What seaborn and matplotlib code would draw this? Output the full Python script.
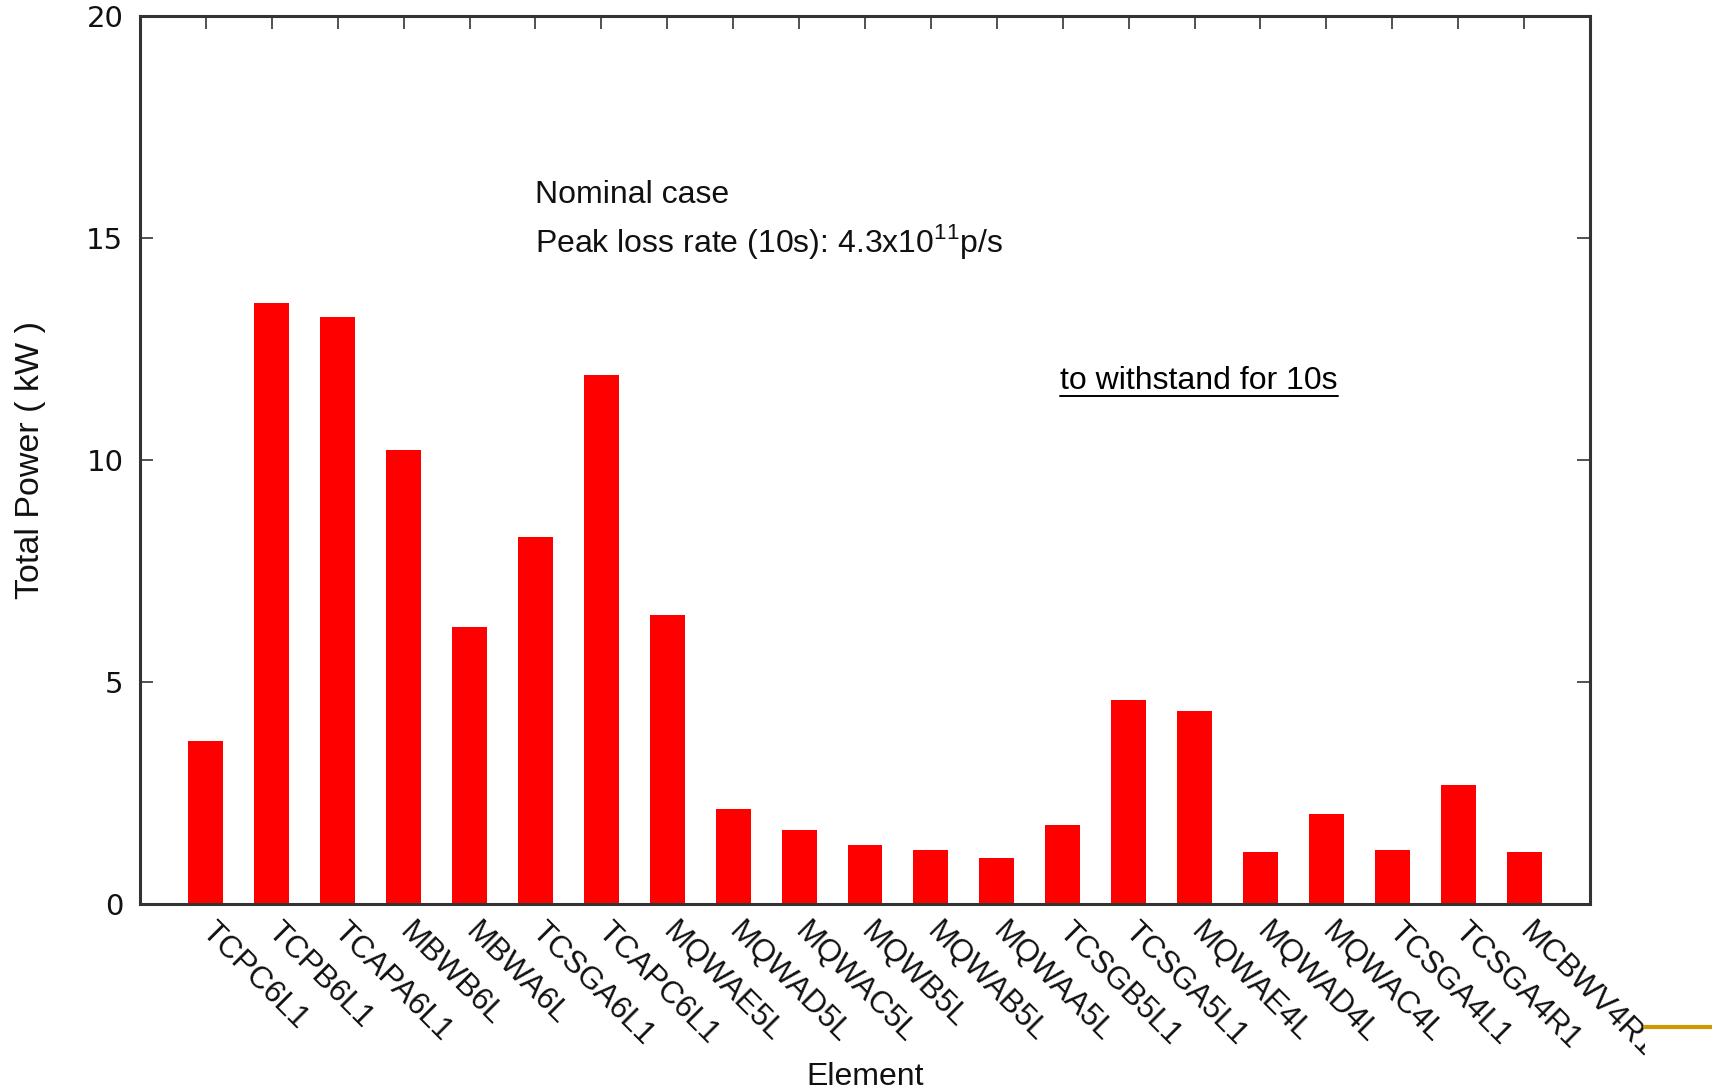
import matplotlib
matplotlib.use("Agg")
import matplotlib.pyplot as plt
from matplotlib.lines import Line2D
from matplotlib.transforms import ScaledTranslation, Bbox
import seaborn as sns
import pandas as pd

elements = ["TCPC6L1", "TCPB6L1", "TCAPA6L1", "MBWB6L", "MBWA6L", "TCSGA6L1",
            "TCAPC6L1", "MQWAE5L", "MQWAD5L", "MQWAC5L", "MQWB5L", "MQWAB5L",
            "MQWAA5L", "TCSGB5L1", "TCSGA5L1", "MQWAE4L", "MQWAD4L", "MQWAC4L",
            "TCSGA4L1", "TCSGA4R1", "MCBWV4R1"]
power_kw = [3.67, 13.53, 13.21, 10.23, 6.25, 8.27, 11.91, 6.52, 2.14, 1.67, 1.33,
            1.21, 1.03, 1.77, 4.60, 4.35, 1.16, 2.02, 1.21, 2.68, 1.16]
y_ticks = [0, 5, 10, 15, 20]

sns.set_theme(style="white")
plt.rcParams["font.family"] = ["Liberation Sans", "DejaVu Sans"]
plt.rcParams["mathtext.fontset"] = "custom"
plt.rcParams["mathtext.rm"] = "Liberation Sans"

df = pd.DataFrame({"Element": elements, "Power": power_kw})

W, H = 1712, 1089
fig = plt.figure(figsize=(W / 100, H / 100), dpi=100)
ax = fig.add_axes([140 / W, 1 - 904 / H, 1450 / W, 888 / H])

sns.barplot(data=df, x="Element", y="Power", color="#ff0000", saturation=1,
            width=0.53, ax=ax, linewidth=0)

ax.set_xlim(-1, 21)
ax.set_ylim(0, 20)
ax.set_yticks(y_ticks)
ax.set_yticklabels([str(v) for v in y_ticks], fontfamily="DejaVu Sans", fontsize=21)

ax.set_xticks(range(len(elements)))
ax.set_xticklabels(elements, rotation=-45, ha="left", va="top",
                   rotation_mode="anchor", fontsize=22.5, color="#111111")

ax.tick_params(axis="both", direction="in", length=9.5, width=1.2, color="#333333",
               top=True, right=True, bottom=True, left=True)
ax.tick_params(axis="x", pad=9)
ax.tick_params(axis="y", pad=12, labelcolor="#111111")

shift = ScaledTranslation(0.11, 0, fig.dpi_scale_trans)
for lbl in ax.get_xticklabels():
    lbl.set_transform(lbl.get_transform() + shift)

for side in ax.spines.values():
    side.set_color("#333333")
    side.set_linewidth(2.2)

ax.set_xlabel("Element", fontsize=23, labelpad=-1, color="#111111")
ax.set_ylabel("Total Power ( kW )", fontsize=24.5, labelpad=29, color="#111111")

ax.text(5.0, 15.97, "Nominal case", fontsize=23, va="center", ha="left", color="#111111")
ax.text(5.0, 14.93, r"Peak loss rate (10s): 4.3x10$^{\mathregular{11}}$p/s",
        fontsize=23, va="center", ha="left", color="#111111")

note = ax.text(12.96, 11.78, "to withstand for 10s", fontsize=23, va="center",
               ha="left", color="#000000")

fig.canvas.draw()
bb = note.get_window_extent()
inv = fig.transFigure.inverted()
(x0, y0), (x1, _) = inv.transform([(bb.x0, bb.y0), (bb.x1, bb.y0)])
fig.add_artist(Line2D([x0, x1], [y0, y0], color="#000000", linewidth=1.4))

# the chart panel ends where the slide's decoration line begins
edge_x = 1645
for lbl in ax.get_xticklabels():
    lbl.set_clip_on(True)
    lbl.set_clip_box(Bbox([[0, 0], [edge_x, H]]))

fig.add_artist(Line2D([edge_x / W, 1.0], [1 - 1027 / H] * 2,
                      color="#cc9900", linewidth=3))

fig.savefig("out.png", dpi=100)
